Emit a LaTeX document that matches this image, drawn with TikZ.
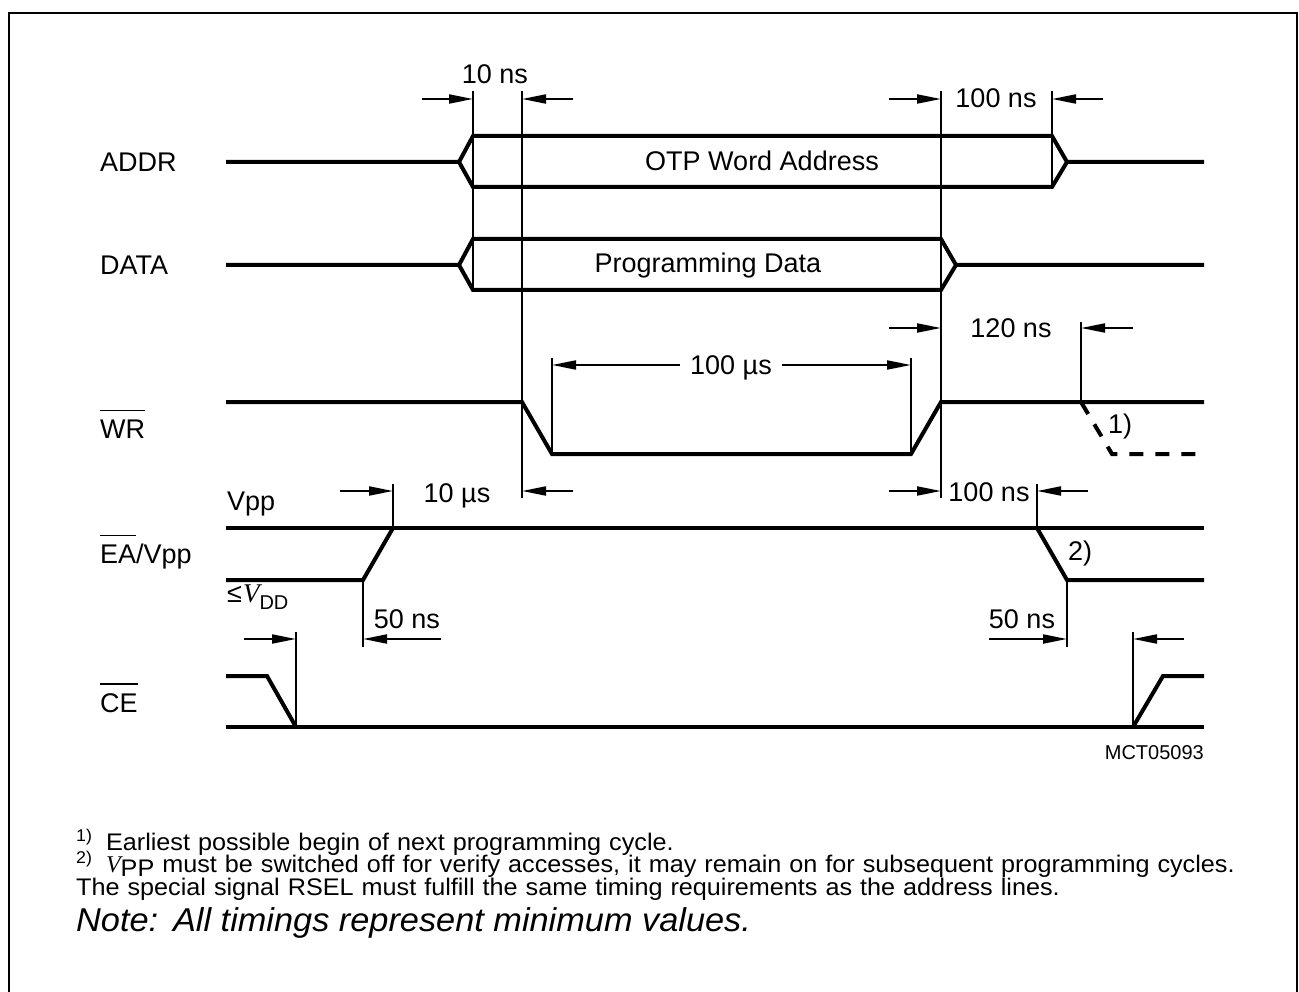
\documentclass[tikz,border=0pt]{standalone}
\usepackage{fontspec}
\setmainfont{Liberation Sans}
\newfontfamily\seriffont{Liberation Serif}
\newfontfamily\footfont[FakeStretch=1.05]{Liberation Sans}
\newfontfamily\notefont[FakeStretch=1.04]{Liberation Sans}
\usetikzlibrary{arrows.meta}
\newcommand\ovl[1]{\vbox{\hrule height 1.8pt\kern 8pt\hbox{#1}}}
\begin{document}
\begin{tikzpicture}[x=1pt,y=-1pt,
  sig/.style={line width=4pt,line join=miter},
  dsig/.style={line width=4pt,dash pattern=on 14pt off 12pt},
  vl/.style={line width=2pt},
  dim/.style={line width=2pt,-{Triangle[length=24pt,width=9pt]}},
  txt/.style={font=\fontsize{27}{32}\selectfont,inner sep=0pt},
  small/.style={font=\fontsize{20}{24}\selectfont,inner sep=0pt},
  foot/.style={font=\footfont\fontsize{24}{22}\selectfont,inner sep=0pt,align=left,text width=1250pt},
]
\useasboundingbox (0,0) rectangle (1299,992);
% frame
\draw[line width=2.5pt] (9,992) -- (9,13) -- (1297,13) -- (1297,992);

% ---------- labels ----------
\node[txt,anchor=base west] (lADDR) at (100,172) {ADDR};
\node[txt,anchor=base west] (lDATA) at (100,275) {DATA};
\node[txt,anchor=base west] (lWR) at (100,438) {\ovl{WR}};
\node[txt,anchor=base west] (lEA) at (100,563) {\ovl{EA}/Vpp};
\node[txt,anchor=base west] (lCE) at (100,712) {\ovl{CE}};

% ---------- ADDR ----------
\draw[sig] (226,162) -- (459,162) -- (473,136) -- (1052,136) -- (1067,162) -- (1204,162);
\draw[sig] (459,162) -- (473,187) -- (1052,187) -- (1067,162);
\node[txt,anchor=base] (tOTP) at (762,171) {OTP Word Address};
% ---------- DATA ----------
\draw[sig] (226,265) -- (459,265) -- (473,239) -- (941,239) -- (956,265) -- (1204,265);
\draw[sig] (459,265) -- (473,290) -- (941,290) -- (956,265);
\node[txt,anchor=base] (tPD) at (708,273) {Programming Data};
% ---------- WR ----------
\draw[sig] (226,402) -- (522,402) -- (552,454) -- (911,454) -- (941,402) -- (1204,402);
\draw[dsig] (1081,402) -- (1112,454) -- (1204,454);
\node[txt,anchor=base] (n1) at (1120,433) {1)};
% ---------- EA/Vpp ----------
\draw[sig] (226,528) -- (1204,528);
\draw[sig] (226,580) -- (363,580) -- (393,528);
\draw[sig] (1037,528) -- (1067,580) -- (1204,580);
\node[txt,anchor=base west] (tVpp) at (227,510) {Vpp};
\node[txt,anchor=base west] (tVdd) at (227,602) {≤\kern1pt{\seriffont\itshape V}\raisebox{-7pt}{\fontsize{20}{24}\selectfont DD}};
\node[txt,anchor=base] (n2) at (1080,560) {2)};
% ---------- CE ----------
\draw[sig] (226,676) -- (267,676) -- (296,727);
\draw[sig] (226,727) -- (1204,727);
\draw[sig] (1133,727) -- (1163,676) -- (1204,676);
\node[small,anchor=base east] (mct) at (1204,759) {MCT05093};

% ---------- vertical reference lines ----------
\draw[vl] (473,91) -- (473,290);
\draw[vl] (522,91) -- (522,498);
\draw[vl] (941,91) -- (941,498);
\draw[vl] (1052,91) -- (1052,187);
\draw[vl] (552,358) -- (552,454);
\draw[vl] (911,358) -- (911,454);
\draw[vl] (1081,322) -- (1081,402);
\draw[vl] (393,484) -- (393,528);
\draw[vl] (1037,484) -- (1037,528);
\draw[vl] (363,580) -- (363,647);
\draw[vl] (1067,580) -- (1067,647);
\draw[vl] (296,632) -- (296,727);
\draw[vl] (1133,632) -- (1133,727);

% ---------- dimension arrows ----------
\draw[dim] (422,99) -- (473,99);
\draw[dim] (573,99) -- (522,99);
\node[txt,anchor=base] (t10ns) at (495,84) {10 ns};

\draw[dim] (889,99) -- (941,99);
\draw[dim] (1103,99) -- (1052,99);
\node[txt,anchor=base] (t100a) at (996,108) {100 ns};

\draw[dim] (889,328) -- (941,328);
\draw[dim] (1133,328) -- (1081,328);
\node[txt,anchor=base] (t120) at (1011,338) {120 ns};

\node[txt,anchor=base,fill=white,inner xsep=10pt,inner ysep=4pt] (t100us) at (731,374) {100 µs};
\draw[dim] (t100us.west |- 0,365) -- (552,365);
\draw[dim] (t100us.east |- 0,365) -- (911,365);

\draw[dim] (340,491) -- (393,491);
\draw[dim] (573,491) -- (522,491);
\node[txt,anchor=base] (t10us) at (457,502) {10 µs};

\draw[dim] (889,491) -- (941,491);
\draw[dim] (1088,491) -- (1037,491);
\node[txt,anchor=base] (t100b) at (989,501) {100 ns};

\draw[dim] (441,639) -- (363,639);
\node[txt,anchor=base] (t50a) at (407,628) {50 ns};
\draw[dim] (244,639) -- (296,639);

\draw[dim] (989,639) -- (1067,639);
\node[txt,anchor=base] (t50b) at (1022,628) {50 ns};
\draw[dim] (1184,639) -- (1133,639);

% ---------- footnotes ----------
\node[foot,anchor=base west] (f1) at (76,850) {\raisebox{9pt}{\fontsize{17}{20}\selectfont 1)}\hspace{14pt}Earliest possible begin of next programming cycle.};
\node[foot,anchor=base west] (f2) at (76,872.5) {\raisebox{9pt}{\fontsize{17}{20}\selectfont 2)}\hspace{14pt}{\seriffont\itshape V}\raisebox{-4pt}{PP} must be switched off for verify accesses, it may remain on for subsequent programming cycles.};
\node[foot,anchor=base west] (f3) at (76,895) {The special signal RSEL must fulfill the same timing requirements as the address lines.};
\node[anchor=base west,inner sep=0pt,font=\notefont\fontsize{33}{38}\selectfont\itshape] (note) at (76,931) {Note:\hspace{0.45em}All timings represent minimum values.};
\end{tikzpicture}
\end{document}
